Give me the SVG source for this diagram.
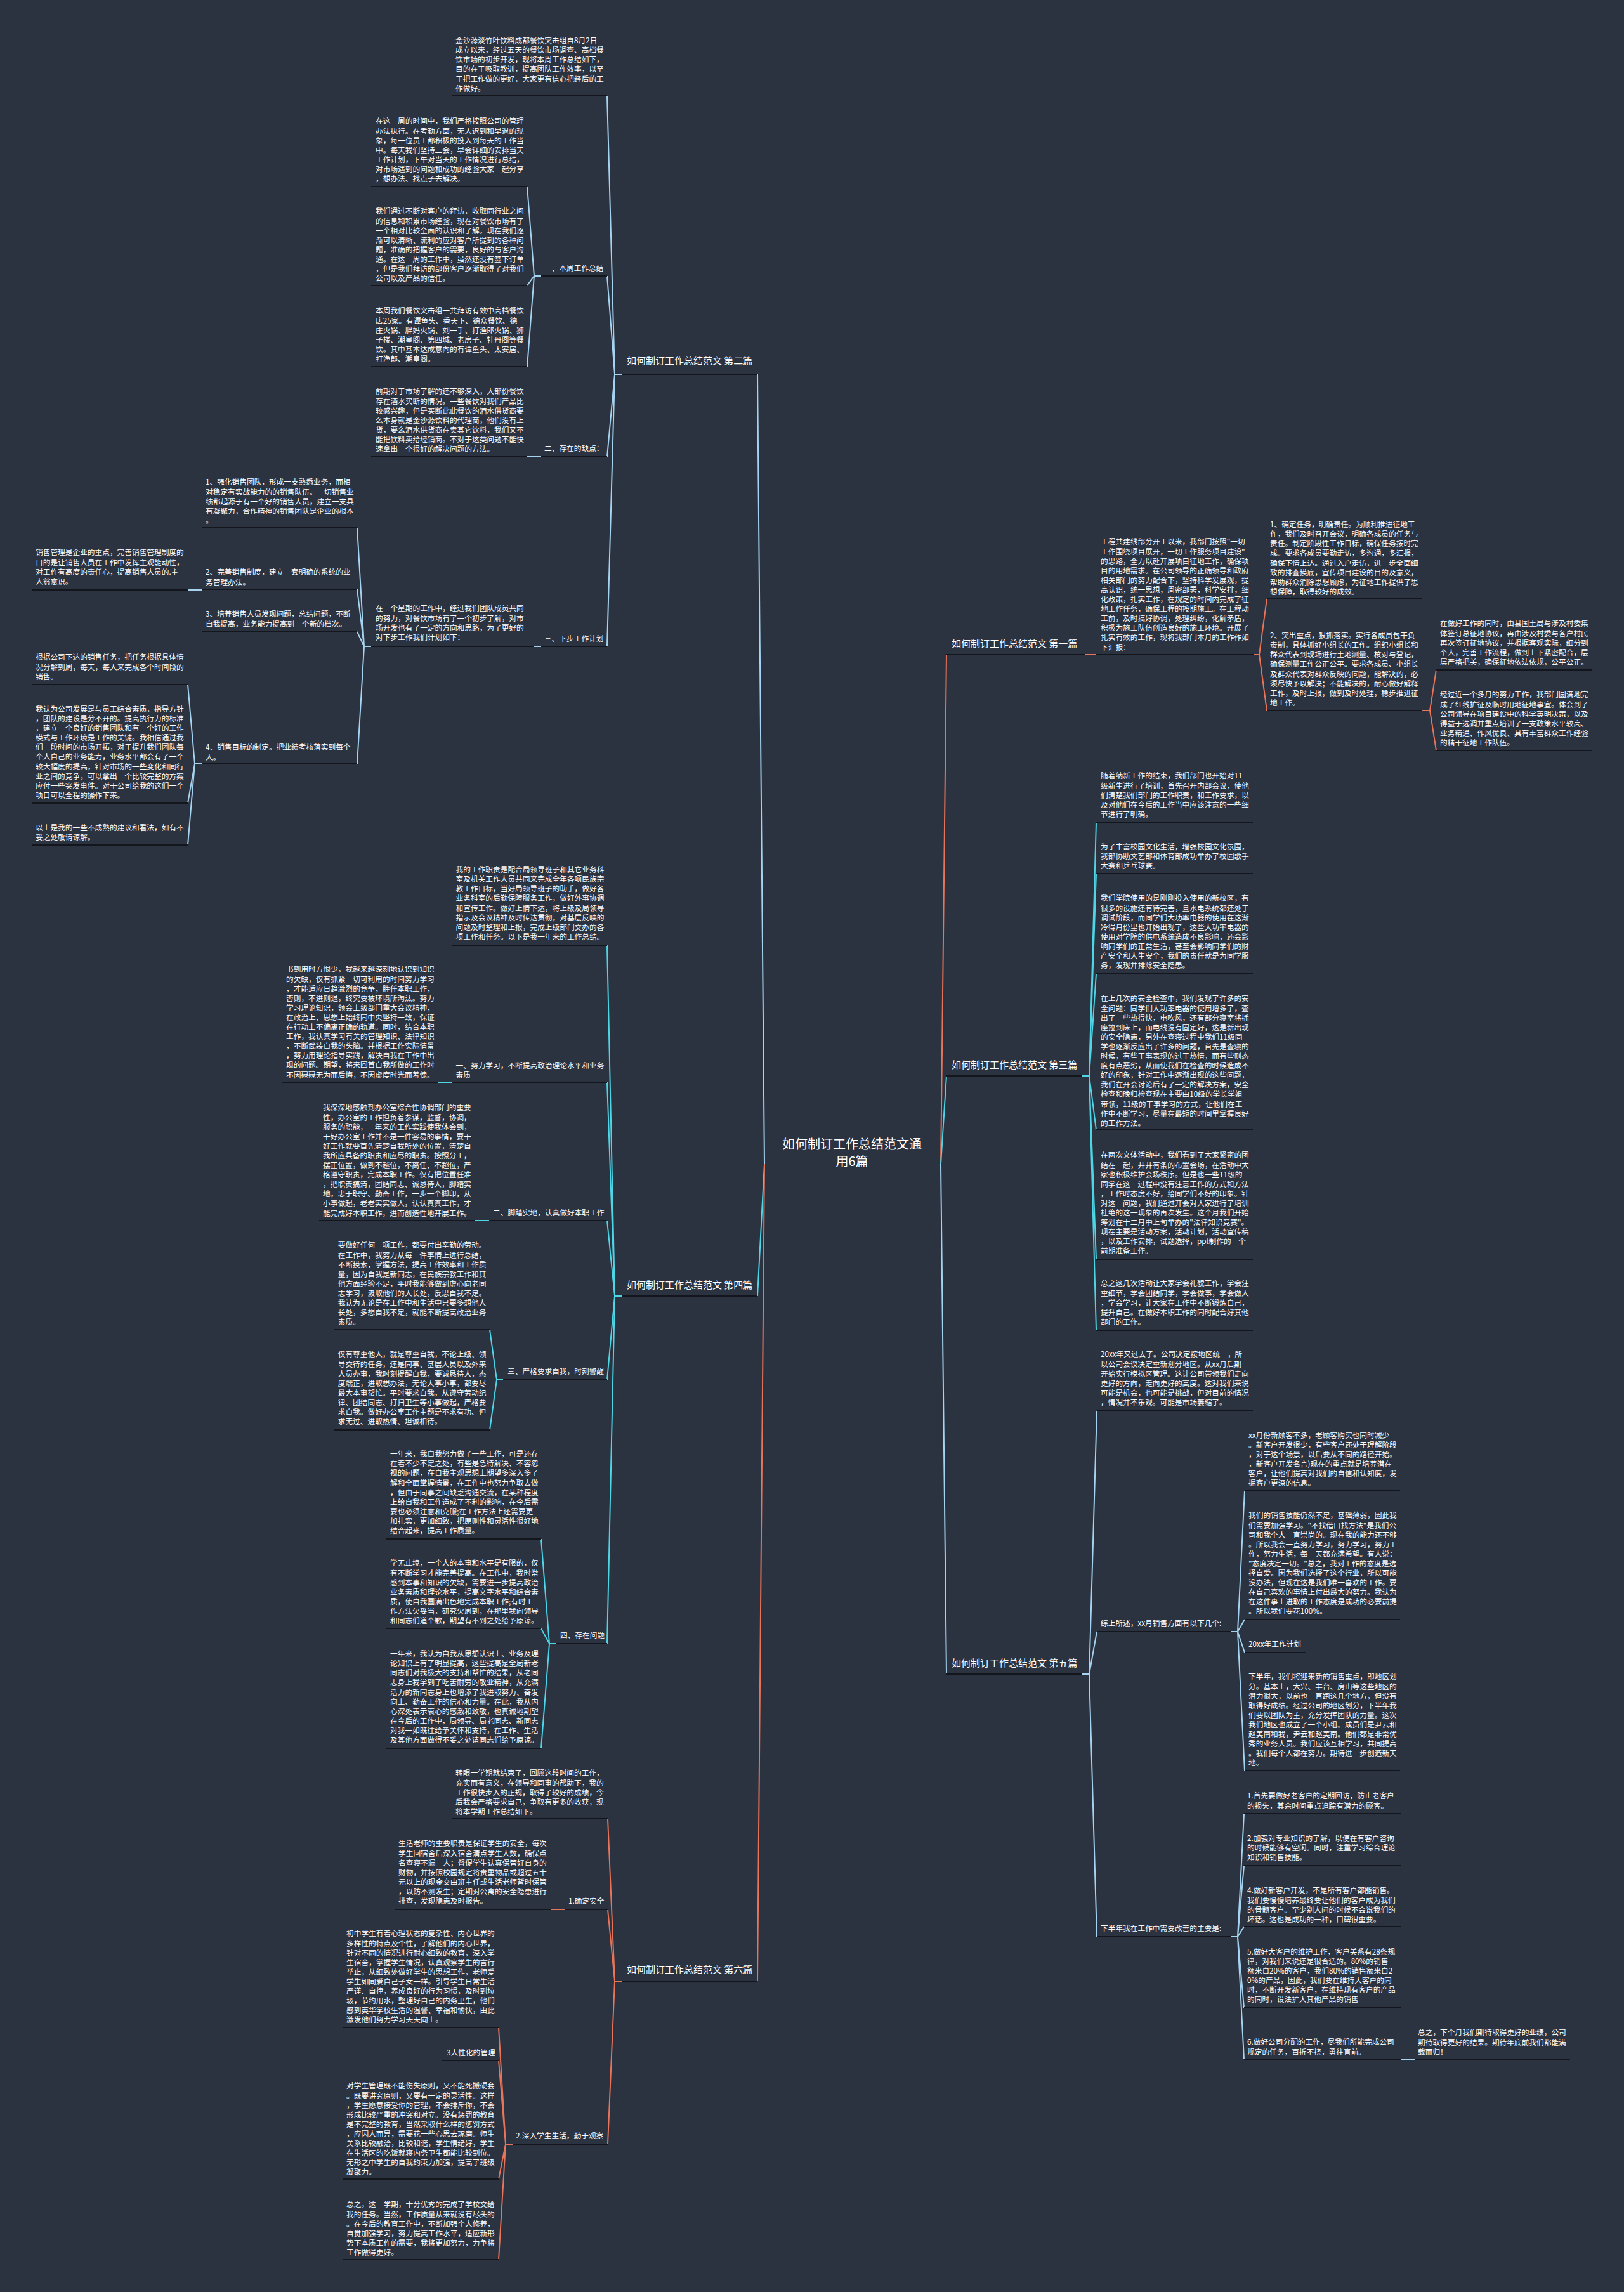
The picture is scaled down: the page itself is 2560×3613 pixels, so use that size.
<svg xmlns="http://www.w3.org/2000/svg" width="2560" height="3613" viewBox="0 0 2560 3613">
<style>
.t{font-family:"Noto Sans CJK SC","Noto Sans",sans-serif;font-size:11.7px;fill:#ffffff}
.lb{font-size:15px}
.ct{font-size:20px;text-anchor:middle}
.ul{stroke:#13171d;stroke-width:2}
.c{fill:none;stroke-width:2}
.cb{stroke:#a6d3f0}
.cc{stroke:#4fd6e6}
.co{stroke:#e8745a}
</style>
<rect width="2560" height="3613" fill="#2b3240"/>
<g id="connectors">
<path class="c cb" d="M1205 1835 L1194 590"/>
<path class="c cc" d="M1205 1835 L1194 2043"/>
<path class="c co" d="M1205 1835 L1194 3123"/>
<path class="c co" d="M1483 1835 L1492 1032"/>
<path class="c cc" d="M1483 1835 L1492 1696"/>
<path class="c cb" d="M1483 1835 L1492 2639"/>
<path class="c cb" d="M980 590 H969 M969 590 L957 151 M969 590 L957 435 M969 590 L957 720 M969 590 L957 1019"/>
<path class="c cb" d="M853 435 H842 M842 435 L831 294 M842 435 L831 450 M842 435 L831 578"/>
<path class="c cb" d="M853 720 H831"/>
<path class="c cb" d="M853 1019 H841"/>
<path class="c cb" d="M585 1019 H574 M574 1019 L563 832 M574 1019 L563 929 M574 1019 L563 996 M574 1019 L563 1204"/>
<path class="c cb" d="M318 930 H296"/>
<path class="c cb" d="M318 1204 H307 M307 1204 L296 1079 M307 1204 L296 1266 M307 1204 L296 1332"/>
<path class="c cc" d="M980 2043 H969 M969 2043 L957 1490 M969 2043 L957 1706 M969 2043 L957 1924 M969 2043 L957 2175 M969 2043 L957 2591"/>
<path class="c cc" d="M712 1706 H690"/>
<path class="c cc" d="M771 1924 H748"/>
<path class="c cc" d="M793 2175 H783 M783 2175 L772 2096 M783 2175 L772 2254"/>
<path class="c cc" d="M876 2591 H866 M866 2591 L853 2426 M866 2591 L853 2567 M866 2591 L853 2756"/>
<path class="c co" d="M980 3123 H969 M969 3123 L958 2867 M969 3123 L958 3010 M969 3123 L958 3380"/>
<path class="c co" d="M890 3010 H868"/>
<path class="c co" d="M808 3380 H797 M797 3380 L786 3196 M797 3380 L786 3248 M797 3380 L786 3435 M797 3380 L786 3562"/>
<path class="c co" d="M1710 1032 H1728"/>
<path class="c co" d="M1977 1032 H1985 M1985 1032 L1997 944 M1985 1032 L1997 1120"/>
<path class="c co" d="M2242 1120 H2254 M2254 1120 L2264 1056 M2254 1120 L2264 1183"/>
<path class="c cc" d="M1706 1696 H1717 M1717 1696 L1728 1296 M1717 1696 L1728 1377 M1717 1696 L1728 1535 M1717 1696 L1728 1781 M1717 1696 L1728 1985 M1717 1696 L1728 2097"/>
<path class="c cb" d="M1706 2639 H1717 M1717 2639 L1729 2224 M1717 2639 L1729 2572 M1717 2639 L1729 3053"/>
<path class="c cb" d="M1940 2572 H1951 M1951 2572 L1962 2350 M1951 2572 L1962 2553 M1951 2572 L1962 2605 M1951 2572 L1962 2791"/>
<path class="c cb" d="M1940 3053 H1951 M1951 3053 L1961 2859 M1951 3053 L1961 2941 M1951 3053 L1961 3037 M1951 3053 L1961 3165 M1951 3053 L1961 3246"/>
<path class="c cb" d="M2208 3246 H2230"/>
</g>
<g id="center"><text class="t ct" x="1343" y="1811"><tspan x="1343">如何制订工作总结范文通</tspan><tspan x="1343" dy="27">用6篇</tspan></text></g>

<g id="b2"><text class="t lb" x="988" y="573.6">如何制订工作总结范文 第二篇</text><line class="ul" x1="980" y1="590" x2="1194" y2="590"/></g>
<g id="b2-intro"><text class="t" x="718" y="68.1"><tspan x="718">金沙源淡竹叶饮料成都餐饮突击组自8月2日</tspan><tspan x="718" dy="15.1">成立以来，经过五天的餐饮市场调查、高档餐</tspan><tspan x="718" dy="15.1">饮市场的初步开发，现将本周工作总结如下，</tspan><tspan x="718" dy="15.1">目的在于吸取教训，提高团队工作效率，以至</tspan><tspan x="718" dy="15.1">于把工作做的更好，大家更有信心把经后的工</tspan><tspan x="718" dy="15.1">作做好。</tspan></text><line class="ul" x1="713" y1="151" x2="957" y2="151"/></g>
<g id="b2-s1"><text class="t" x="858" y="427.4">一、本周工作总结</text><line class="ul" x1="853" y1="435" x2="957" y2="435"/></g>
<g id="b2-s1a"><text class="t" x="592" y="195.4"><tspan x="592">在这一周的时间中，我们严格按照公司的管理</tspan><tspan x="592" dy="15.1">办法执行。在考勤方面，无人迟到和早退的现</tspan><tspan x="592" dy="15.1">象，每一位员工都积极的投入到每天的工作当</tspan><tspan x="592" dy="15.1">中。每天我们坚持二会，早会详细的安排当天</tspan><tspan x="592" dy="15.1">工作计划，下午对当天的工作情况进行总结，</tspan><tspan x="592" dy="15.1">对市场遇到的问题和成功的经验大家一起分享</tspan><tspan x="592" dy="15.1">，想办法、找点子去解决。</tspan></text><line class="ul" x1="585" y1="294" x2="831" y2="294"/></g>
<g id="b2-s1b"><text class="t" x="592" y="337.4"><tspan x="592">我们通过不断对客户的拜访，收取同行业之间</tspan><tspan x="592" dy="15.1">的信息和积累市场经验，现在对餐饮市场有了</tspan><tspan x="592" dy="15.1">一个相对比较全面的认识和了解。现在我们逐</tspan><tspan x="592" dy="15.1">渐可以清晰、流利的应对客户所提到的各种问</tspan><tspan x="592" dy="15.1">题，准确的把握客户的需要，良好的与客户沟</tspan><tspan x="592" dy="15.1">通。在这一周的工作中，虽然还没有签下订单</tspan><tspan x="592" dy="15.1">，但是我们拜访的部份客户逐渐取得了对我们</tspan><tspan x="592" dy="15.1">公司以及产品的信任。</tspan></text><line class="ul" x1="585" y1="450" x2="831" y2="450"/></g>
<g id="b2-s1c"><text class="t" x="592" y="494.4"><tspan x="592">本周我们餐饮突击组一共拜访有效中高档餐饮</tspan><tspan x="592" dy="15.1">店25家。有谭鱼头、香天下、德众餐饮、德</tspan><tspan x="592" dy="15.1">庄火锅、胖妈火锅、刘一手、打渔郎火锅、狮</tspan><tspan x="592" dy="15.1">子楼、潮皇阁、第四城、老房子、牡丹阁等餐</tspan><tspan x="592" dy="15.1">饮。其中基本达成意向的有谭鱼头、太安居、</tspan><tspan x="592" dy="15.1">打渔郎、潮皇阁。</tspan></text><line class="ul" x1="585" y1="578" x2="831" y2="578"/></g>
<g id="b2-s2"><text class="t" x="858" y="711.4">二、存在的缺点：</text><line class="ul" x1="853" y1="720" x2="957" y2="720"/></g>
<g id="b2-s2a"><text class="t" x="592" y="621.4"><tspan x="592">前期对于市场了解的还不够深入，大部份餐饮</tspan><tspan x="592" dy="15.1">存在酒水买断的情况。一些餐饮对我们产品比</tspan><tspan x="592" dy="15.1">较感兴趣，但是买断此此餐饮的酒水供货商要</tspan><tspan x="592" dy="15.1">么本身就是金沙源饮料的代理商，他们没有上</tspan><tspan x="592" dy="15.1">货，要么酒水供货商在卖其它饮料，我们又不</tspan><tspan x="592" dy="15.1">能把饮料卖给经销商。不对于这类问题不能快</tspan><tspan x="592" dy="15.1">速拿出一个很好的解决问题的方法。</tspan></text><line class="ul" x1="585" y1="720" x2="831" y2="720"/></g>
<g id="b2-s3"><text class="t" x="858" y="1011.4">三、下步工作计划</text><line class="ul" x1="853" y1="1019" x2="957" y2="1019"/></g>
<g id="b2-s3a"><text class="t" x="592" y="963.4"><tspan x="592">在一个星期的工作中，经过我们团队成员共同</tspan><tspan x="592" dy="15.1">的努力，对餐饮市场有了一个初步了解，对市</tspan><tspan x="592" dy="15.1">场开发也有了一定的方向和思路，为了更好的</tspan><tspan x="592" dy="15.1">对下步工作我们计划如下：</tspan></text><line class="ul" x1="585" y1="1019" x2="841" y2="1019"/></g>
<g id="b2-p1"><text class="t" x="324" y="764.4"><tspan x="324">1、强化销售团队，形成一支熟悉业务，而相</tspan><tspan x="324" dy="15.1">对稳定有实战能力的的销售队伍。一切销售业</tspan><tspan x="324" dy="15.1">绩都起源于有一个好的销售人员，建立一支具</tspan><tspan x="324" dy="15.1">有凝聚力，合作精神的销售团队是企业的根本</tspan><tspan x="324" dy="15.1">。</tspan></text><line class="ul" x1="318" y1="832" x2="563" y2="832"/></g>
<g id="b2-p2"><text class="t" x="324" y="906.4"><tspan x="324">2、完善销售制度，建立一套明确的系统的业</tspan><tspan x="324" dy="15.1">务管理办法。</tspan></text><line class="ul" x1="318" y1="929" x2="563" y2="929"/></g>
<g id="b2-p2a"><text class="t" x="56" y="875.4"><tspan x="56">销售管理是企业的重点，完善销售管理制度的</tspan><tspan x="56" dy="15.1">目的是让销售人员在工作中发挥主观能动性，</tspan><tspan x="56" dy="15.1">对工作有高度的责任心，提高销售人员的.主</tspan><tspan x="56" dy="15.1">人翁意识。</tspan></text><line class="ul" x1="50" y1="930" x2="296" y2="930"/></g>
<g id="b2-p3"><text class="t" x="324" y="972.4"><tspan x="324">3、培养销售人员发现问题，总结问题，不断</tspan><tspan x="324" dy="15.1">自我提高，业务能力提高到一个新的档次。</tspan></text><line class="ul" x1="318" y1="996" x2="563" y2="996"/></g>
<g id="b2-p4"><text class="t" x="324" y="1182.4"><tspan x="324">4、销售目标的制定。把业绩考核落实到每个</tspan><tspan x="324" dy="15.1">人。</tspan></text><line class="ul" x1="318" y1="1204" x2="563" y2="1204"/></g>
<g id="b2-p4a"><text class="t" x="56" y="1040.4"><tspan x="56">根据公司下达的销售任务，把任务根据具体情</tspan><tspan x="56" dy="15.1">况分解到周，每天，每人来完成各个时间段的</tspan><tspan x="56" dy="15.1">销售。</tspan></text><line class="ul" x1="50" y1="1079" x2="296" y2="1079"/></g>
<g id="b2-p4b"><text class="t" x="56" y="1121.9"><tspan x="56">我认为公司发展是与员工综合素质，指导方针</tspan><tspan x="56" dy="15.1">，团队的建设是分不开的。提高执行力的标准</tspan><tspan x="56" dy="15.1">，建立一个良好的销售团队和有一个好的工作</tspan><tspan x="56" dy="15.1">模式与工作环境是工作的关键。我相信通过我</tspan><tspan x="56" dy="15.1">们一段时间的市场开拓，对于提升我们团队每</tspan><tspan x="56" dy="15.1">个人自己的业务能力，业务水平都会有了一个</tspan><tspan x="56" dy="15.1">较大幅度的提高，针对市场的一些变化和同行</tspan><tspan x="56" dy="15.1">业之间的竞争，可以拿出一个比较完整的方案</tspan><tspan x="56" dy="15.1">应付一些突发事件。对于公司给我的这们一个</tspan><tspan x="56" dy="15.1">项目可以全程的操作下来。</tspan></text><line class="ul" x1="50" y1="1266" x2="296" y2="1266"/></g>
<g id="b2-p4c"><text class="t" x="56" y="1308.9"><tspan x="56">以上是我的一些不成熟的建议和看法，如有不</tspan><tspan x="56" dy="15.1">妥之处敬请谅解。</tspan></text><line class="ul" x1="50" y1="1332" x2="296" y2="1332"/></g>

<g id="b4"><text class="t lb" x="988" y="2030.6">如何制订工作总结范文 第四篇</text><line class="ul" x1="980" y1="2043" x2="1194" y2="2043"/></g>
<g id="b4-intro"><text class="t" x="718.6" y="1375.1"><tspan x="718.6">我的工作职责是配合局领导班子和其它业务科</tspan><tspan x="718.6" dy="15.1">室及机关工作人员共同来完成全年各项民族宗</tspan><tspan x="718.6" dy="15.1">教工作目标，当好局领导班子的助手，做好各</tspan><tspan x="718.6" dy="15.1">业务科室的后勤保障服务工作，做好外事协调</tspan><tspan x="718.6" dy="15.1">和宣传工作。做好上情下达，将上级及局领导</tspan><tspan x="718.6" dy="15.1">指示及会议精神及时传达贯彻，对基层反映的</tspan><tspan x="718.6" dy="15.1">问题及时整理和上报，完成上级部门交办的各</tspan><tspan x="718.6" dy="15.1">项工作和任务。以下是我一年来的工作总结。</tspan></text><line class="ul" x1="712" y1="1490" x2="957" y2="1490"/></g>
<g id="b4-s1"><text class="t" x="718.6" y="1684"><tspan x="718.6">一、努力学习，不断提高政治理论水平和业务</tspan><tspan x="718.6" dy="15.1">素质</tspan></text><line class="ul" x1="712" y1="1706" x2="957" y2="1706"/></g>
<g id="b4-s1a"><text class="t" x="451" y="1532.4"><tspan x="451">书到用时方恨少，我越来越深刻地认识到知识</tspan><tspan x="451" dy="15.1">的欠缺，仅有抓紧一切可利用的时间努力学习</tspan><tspan x="451" dy="15.1">，才能适应日趋激烈的竞争，胜任本职工作，</tspan><tspan x="451" dy="15.1">否则，不进则退，终究要被环境所淘汰。努力</tspan><tspan x="451" dy="15.1">学习理论知识，领会上级部门重大会议精神，</tspan><tspan x="451" dy="15.1">在政治上、思想上始终同中央坚持一致，保证</tspan><tspan x="451" dy="15.1">在行动上不偏离正确的轨道。同时，结合本职</tspan><tspan x="451" dy="15.1">工作，我认真学习有关的管理知识、法律知识</tspan><tspan x="451" dy="15.1">，不断武装自我的头脑。并根据工作实际情景</tspan><tspan x="451" dy="15.1">，努力用理论指导实践，解决自我在工作中出</tspan><tspan x="451" dy="15.1">现的问题。期望，将来回首自我所做的工作时</tspan><tspan x="451" dy="15.1">不因碌碌无为而后悔，不因虚度时光而羞愧。</tspan></text><line class="ul" x1="445" y1="1706" x2="690" y2="1706"/></g>
<g id="b4-s2"><text class="t" x="777" y="1916.4">二、脚踏实地，认真做好本职工作</text><line class="ul" x1="771" y1="1924" x2="957" y2="1924"/></g>
<g id="b4-s2a"><text class="t" x="509" y="1750.4"><tspan x="509">我深深地感触到办公室综合性协调部门的重要</tspan><tspan x="509" dy="15.1">性，办公室的工作担负着参谋，监督，协调，</tspan><tspan x="509" dy="15.1">服务的职能，一年来的工作实践使我体会到，</tspan><tspan x="509" dy="15.1">干好办公室工作并不是一件容易的事情，要干</tspan><tspan x="509" dy="15.1">好工作就要首先清楚自我所处的位置，清楚自</tspan><tspan x="509" dy="15.1">我所应具备的职责和应尽的职责。按照分工，</tspan><tspan x="509" dy="15.1">摆正位置，做到不越位，不离任、不超位，严</tspan><tspan x="509" dy="15.1">格遵守职责，完成本职工作。仅有把位置任准</tspan><tspan x="509" dy="15.1">，把职责搞清，团结同志、诚恳待人，脚踏实</tspan><tspan x="509" dy="15.1">地，忠于职守、勤奋工作，一步一个脚印，从</tspan><tspan x="509" dy="15.1">小事做起，老老实实做人，认认真真工作，才</tspan><tspan x="509" dy="15.1">能完成好本职工作，进而创造性地开展工作。</tspan></text><line class="ul" x1="503" y1="1924" x2="748" y2="1924"/></g>
<g id="b4-s3"><text class="t" x="800" y="2166.4">三、严格要求自我，时刻警醒</text><line class="ul" x1="793" y1="2175" x2="957" y2="2175"/></g>
<g id="b4-s3a"><text class="t" x="532.7" y="1967.4"><tspan x="532.7">要做好任何一项工作，都要付出辛勤的劳动。</tspan><tspan x="532.7" dy="15.1">在工作中，我努力从每一件事情上进行总结，</tspan><tspan x="532.7" dy="15.1">不断摸索，掌握方法，提高工作效率和工作质</tspan><tspan x="532.7" dy="15.1">量，因为自我是新同志，在民族宗教工作和其</tspan><tspan x="532.7" dy="15.1">他方面经验不足，平时我能够做到虚心向老同</tspan><tspan x="532.7" dy="15.1">志学习，汲取他们的人长处，反思自我不足。</tspan><tspan x="532.7" dy="15.1">我认为无论是在工作中和生活中只要多想他人</tspan><tspan x="532.7" dy="15.1">长处，多想自我不足，就能不断提高政治业务</tspan><tspan x="532.7" dy="15.1">素质。</tspan></text><line class="ul" x1="527" y1="2096" x2="772" y2="2096"/></g>
<g id="b4-s3b"><text class="t" x="532.7" y="2139.4"><tspan x="532.7">仅有尊重他人，就是尊重自我，不论上级、领</tspan><tspan x="532.7" dy="15.1">导交待的任务，还是同事、基层人员以及外来</tspan><tspan x="532.7" dy="15.1">人员办事，我时刻提醒自我，要诚恳待人，态</tspan><tspan x="532.7" dy="15.1">度端正，进取想办法，无论大事小事，都要尽</tspan><tspan x="532.7" dy="15.1">最大本事帮忙。平时要求自我，从遵守劳动纪</tspan><tspan x="532.7" dy="15.1">律、团结同志、打扫卫生等小事做起，严格要</tspan><tspan x="532.7" dy="15.1">求自我。做好办公室工作主题是不求有功、但</tspan><tspan x="532.7" dy="15.1">求无过、进取热情、坦诚相待。</tspan></text><line class="ul" x1="527" y1="2254" x2="772" y2="2254"/></g>
<g id="b4-s4"><text class="t" x="883" y="2582.4">四、存在问题</text><line class="ul" x1="876" y1="2591" x2="957" y2="2591"/></g>
<g id="b4-s4a"><text class="t" x="615" y="2296.2"><tspan x="615">一年来，我自我努力做了一些工作，可是还存</tspan><tspan x="615" dy="15.1">在着不少不足之处，有些是急待解决、不容忽</tspan><tspan x="615" dy="15.1">视的问题，在自我主观思想上期望多深入多了</tspan><tspan x="615" dy="15.1">解和全面掌握情景，在工作中也努力争取去做</tspan><tspan x="615" dy="15.1">，但由于同事之间缺乏沟通交流，在某种程度</tspan><tspan x="615" dy="15.1">上给自我和工作造成了不利的影响，在今后需</tspan><tspan x="615" dy="15.1">要也必须注意和克服;在工作方法上还需要更</tspan><tspan x="615" dy="15.1">加扎实，更加细致，把原则性和灵活性很好地</tspan><tspan x="615" dy="15.1">结合起来，提高工作质量。</tspan></text><line class="ul" x1="608" y1="2426" x2="853" y2="2426"/></g>
<g id="b4-s4b"><text class="t" x="615" y="2468.4"><tspan x="615">学无止境，一个人的本事和水平是有限的，仅</tspan><tspan x="615" dy="15.1">有不断学习才能完善提高。在工作中，我时常</tspan><tspan x="615" dy="15.1">感到本事和知识的欠缺，需要进一步提高政治</tspan><tspan x="615" dy="15.1">业务素质和理论水平，提高文字水平和综合素</tspan><tspan x="615" dy="15.1">质，使自我圆满出色地完成本职工作;有时工</tspan><tspan x="615" dy="15.1">作方法欠妥当，研究欠周到，在那里我向领导</tspan><tspan x="615" dy="15.1">和同志们道个歉，期望有不到之处给予原谅。</tspan></text><line class="ul" x1="608" y1="2567" x2="853" y2="2567"/></g>
<g id="b4-s4c"><text class="t" x="615" y="2611.1"><tspan x="615">一年来，我认为自我从思想认识上、业务及理</tspan><tspan x="615" dy="15.1">论知识上有了明显提高，这些提高是全局新老</tspan><tspan x="615" dy="15.1">同志们对我极大的支持和帮忙的结果，从老同</tspan><tspan x="615" dy="15.1">志身上我学到了吃苦耐劳的敬业精神，从充满</tspan><tspan x="615" dy="15.1">活力的新同志身上也增添了我进取努力、奋发</tspan><tspan x="615" dy="15.1">向上、勤奋工作的信心和力量。在此，我从内</tspan><tspan x="615" dy="15.1">心深处表示衷心的感激和致敬，也真诚地期望</tspan><tspan x="615" dy="15.1">在今后的工作中，局领导、局老同志、新同志</tspan><tspan x="615" dy="15.1">对我一如既往给予关怀和支持，在工作、生活</tspan><tspan x="615" dy="15.1">及其他方面做得不妥之处请同志们给予原谅。</tspan></text><line class="ul" x1="608" y1="2756" x2="853" y2="2756"/></g>

<g id="b6"><text class="t lb" x="988" y="3109.6">如何制订工作总结范文 第六篇</text><line class="ul" x1="980" y1="3123" x2="1194" y2="3123"/></g>
<g id="b6-intro"><text class="t" x="718" y="2799.4"><tspan x="718">转眼一学期就结束了，回顾这段时间的工作，</tspan><tspan x="718" dy="15.1">充实而有意义，在领导和同事的帮助下，我的</tspan><tspan x="718" dy="15.1">工作很快步入的正规，取得了较好的成绩，今</tspan><tspan x="718" dy="15.1">后我会严格要求自己，争取有更多的收获，现</tspan><tspan x="718" dy="15.1">将本学期工作总结如下。</tspan></text><line class="ul" x1="713" y1="2867" x2="958" y2="2867"/></g>
<g id="b6-s1"><text class="t" x="896" y="3001.4">1.确定安全</text><line class="ul" x1="890" y1="3010" x2="958" y2="3010"/></g>
<g id="b6-s1a"><text class="t" x="628" y="2910.4"><tspan x="628">生活老师的重要职责是保证学生的安全，每次</tspan><tspan x="628" dy="15.1">学生回宿舍后深入宿舍清点学生人数，确保点</tspan><tspan x="628" dy="15.1">名查寝不漏一人；督促学生认真保管好自身的</tspan><tspan x="628" dy="15.1">财物，并按照校园规定将贵重物品或超过五十</tspan><tspan x="628" dy="15.1">元以上的现金交由班主任或生活老师暂时保管</tspan><tspan x="628" dy="15.1">，以防不测发生；定期对公寓的安全隐患进行</tspan><tspan x="628" dy="15.1">排查，发现隐患及时报告。</tspan></text><line class="ul" x1="623" y1="3010" x2="868" y2="3010"/></g>
<g id="b6-s2"><text class="t" x="813" y="3371.4">2.深入学生生活，勤于观察</text><line class="ul" x1="808" y1="3380" x2="958" y2="3380"/></g>
<g id="b6-s2a"><text class="t" x="546" y="3052.4"><tspan x="546">初中学生有着心理状态的复杂性、内心世界的</tspan><tspan x="546" dy="15.1">多样性的特点及个性，了解他们的内心世界，</tspan><tspan x="546" dy="15.1">针对不同的情况进行耐心细致的教育，深入学</tspan><tspan x="546" dy="15.1">生宿舍，掌握学生情况，认真观察学生的言行</tspan><tspan x="546" dy="15.1">举止，从细致处做好学生的思想工作，老师爱</tspan><tspan x="546" dy="15.1">学生如同爱自己子女一样。引导学生日常生活</tspan><tspan x="546" dy="15.1">严谨、自律，养成良好的行为习惯，及时到垃</tspan><tspan x="546" dy="15.1">圾，节约用水，整理好自己的内务卫生，他们</tspan><tspan x="546" dy="15.1">感到英华学校生活的温馨、幸福和愉快，由此</tspan><tspan x="546" dy="15.1">激发他们努力学习天天向上。</tspan></text><line class="ul" x1="540" y1="3196" x2="786" y2="3196"/></g>
<g id="b6-s2b"><text class="t" x="704" y="3240.4">3人性化的管理</text><line class="ul" x1="697" y1="3248" x2="786" y2="3248"/></g>
<g id="b6-s2c"><text class="t" x="546" y="3292.4"><tspan x="546">对学生管理既不能伤失原则，又不能死搬硬套</tspan><tspan x="546" dy="15.1">。既要讲究原则，又要有一定的灵活性。这样</tspan><tspan x="546" dy="15.1">，学生愿意接受你的管理，不会排斥你，不会</tspan><tspan x="546" dy="15.1">形成比较严重的冲突和对立。没有惩罚的教育</tspan><tspan x="546" dy="15.1">是不完整的教育，当然采取什么样的惩罚方式</tspan><tspan x="546" dy="15.1">，应因人而异，需要花一些心思去琢磨。师生</tspan><tspan x="546" dy="15.1">关系比较融洽，比较和谐，学生情绪好，学生</tspan><tspan x="546" dy="15.1">在生活区的吃饭就寝内务卫生都能比较到位。</tspan><tspan x="546" dy="15.1">无形之中学生的自我约束力加强，提高了班级</tspan><tspan x="546" dy="15.1">凝聚力。</tspan></text><line class="ul" x1="540" y1="3435" x2="786" y2="3435"/></g>
<g id="b6-s2d"><text class="t" x="546" y="3479.4"><tspan x="546">总之，这一学期，十分优秀的完成了学校交给</tspan><tspan x="546" dy="15.1">我的任务。当然，工作质量从来就没有尽头的</tspan><tspan x="546" dy="15.1">。在今后的教育工作中，不断加强个人修养，</tspan><tspan x="546" dy="15.1">自觉加强学习，努力提高工作水平，适应新形</tspan><tspan x="546" dy="15.1">势下本质工作的需要，我将更加努力，力争将</tspan><tspan x="546" dy="15.1">工作做得更好。</tspan></text><line class="ul" x1="540" y1="3562" x2="786" y2="3562"/></g>

<g id="b1"><text class="t lb" x="1500" y="1019.5">如何制订工作总结范文 第一篇</text><line class="ul" x1="1492" y1="1032" x2="1710" y2="1032"/></g>
<g id="b1-main"><text class="t" x="1735" y="858.4"><tspan x="1735">工程共建线部分开工以来，我部门按照"一切</tspan><tspan x="1735" dy="15.1">工作围绕项目展开，一切工作服务项目建设"</tspan><tspan x="1735" dy="15.1">的思路，全力以赴开展项目征地工作，确保项</tspan><tspan x="1735" dy="15.1">目的用地需求。在公司领导的正确领导和政府</tspan><tspan x="1735" dy="15.1">相关部门的努力配合下，坚持科学发展观，提</tspan><tspan x="1735" dy="15.1">高认识，统一思想，周密部署，科学安排，细</tspan><tspan x="1735" dy="15.1">化政策，扎实工作，在规定的时间内完成了征</tspan><tspan x="1735" dy="15.1">地工作任务，确保工程的按期施工。在工程动</tspan><tspan x="1735" dy="15.1">工前，及时搞好协调，处理纠纷，化解矛盾，</tspan><tspan x="1735" dy="15.1">积极为施工队伍创造良好的施工环境。开展了</tspan><tspan x="1735" dy="15.1">扎实有效的工作，现将我部门本月的工作作如</tspan><tspan x="1735" dy="15.1">下汇报：</tspan></text><line class="ul" x1="1728" y1="1032" x2="1977" y2="1032"/></g>
<g id="b1-p1"><text class="t" x="2002" y="831.1"><tspan x="2002">1、确定任务，明确责任。为顺利推进征地工</tspan><tspan x="2002" dy="15.1">作，我们及时召开会议，明确各成员的任务与</tspan><tspan x="2002" dy="15.1">责任。制定阶段性工作目标，确保任务按时完</tspan><tspan x="2002" dy="15.1">成。要求各成员要勤走访，多沟通，多汇报，</tspan><tspan x="2002" dy="15.1">确保下情上达。通过入户走访，进一步全面细</tspan><tspan x="2002" dy="15.1">致的排查摸底，宣传项目建设的目的及意义，</tspan><tspan x="2002" dy="15.1">帮助群众消除思想顾虑，为征地工作提供了思</tspan><tspan x="2002" dy="15.1">想保障，取得较好的成效。</tspan></text><line class="ul" x1="1997" y1="944" x2="2242" y2="944"/></g>
<g id="b1-p2"><text class="t" x="2002" y="1006.1"><tspan x="2002">2、突出重点，狠抓落实。实行各成员包干负</tspan><tspan x="2002" dy="15.1">责制，具体抓好小组长的工作。组织小组长和</tspan><tspan x="2002" dy="15.1">群众代表到现场进行土地测量、核对与登记，</tspan><tspan x="2002" dy="15.1">确保测量工作公正公平。要求各成员、小组长</tspan><tspan x="2002" dy="15.1">及群众代表对群众反映的问题，能解决的，必</tspan><tspan x="2002" dy="15.1">须尽快予以解决；不能解决的，耐心做好解释</tspan><tspan x="2002" dy="15.1">工作，及时上报，做到及时处理，稳步推进征</tspan><tspan x="2002" dy="15.1">地工作。</tspan></text><line class="ul" x1="1997" y1="1120" x2="2242" y2="1120"/></g>
<g id="b1-p2a"><text class="t" x="2270" y="987.4"><tspan x="2270">在做好工作的同时，由县国土局与涉及村委集</tspan><tspan x="2270" dy="15.1">体签订总征地协议，再由涉及村委与各户村民</tspan><tspan x="2270" dy="15.1">再次签订征地协议，并根据客观实际，细分到</tspan><tspan x="2270" dy="15.1">个人，完善工作流程，做到上下紧密配合，层</tspan><tspan x="2270" dy="15.1">层严格把关，确保征地依法依规，公平公正。</tspan></text><line class="ul" x1="2264" y1="1056" x2="2510" y2="1056"/></g>
<g id="b1-p2b"><text class="t" x="2270" y="1099.4"><tspan x="2270">经过近一个多月的努力工作，我部门圆满地完</tspan><tspan x="2270" dy="15.1">成了红线扩征及临时用地征地事宜。体会到了</tspan><tspan x="2270" dy="15.1">公司领导在项目建设中的科学英明决策，以及</tspan><tspan x="2270" dy="15.1">得益于选调并重点培训了一支政策水平较高、</tspan><tspan x="2270" dy="15.1">业务精通、作风优良、具有丰富群众工作经验</tspan><tspan x="2270" dy="15.1">的精干征地工作队伍。</tspan></text><line class="ul" x1="2264" y1="1183" x2="2510" y2="1183"/></g>

<g id="b3"><text class="t lb" x="1500" y="1683.6">如何制订工作总结范文 第三篇</text><line class="ul" x1="1492" y1="1696" x2="1706" y2="1696"/></g>
<g id="b3-1"><text class="t" x="1735" y="1227.4"><tspan x="1735">随着纳新工作的结束，我们部门也开始对11</tspan><tspan x="1735" dy="15.1">级新生进行了培训，首先召开内部会议，使他</tspan><tspan x="1735" dy="15.1">们清楚我们部门的工作职责，和工作要求，以</tspan><tspan x="1735" dy="15.1">及对他们在今后的工作当中应该注意的一些细</tspan><tspan x="1735" dy="15.1">节进行了明确。</tspan></text><line class="ul" x1="1728" y1="1296" x2="1975" y2="1296"/></g>
<g id="b3-2"><text class="t" x="1735" y="1339"><tspan x="1735">为了丰富校园文化生活，增强校园文化氛围，</tspan><tspan x="1735" dy="15.1">我部协助文艺部和体育部成功举办了校园歌手</tspan><tspan x="1735" dy="15.1">大赛和乒乓球赛。</tspan></text><line class="ul" x1="1728" y1="1377" x2="1975" y2="1377"/></g>
<g id="b3-3"><text class="t" x="1735" y="1420.4"><tspan x="1735">我们学院使用的是刚刚投入使用的新校区，有</tspan><tspan x="1735" dy="15.1">很多的设施还有待完善，且水电系统都还处于</tspan><tspan x="1735" dy="15.1">调试阶段，而同学们大功率电器的使用在这渐</tspan><tspan x="1735" dy="15.1">冷得月份里也开始出现了，这些大功率电器的</tspan><tspan x="1735" dy="15.1">使用对学院的供电系统造成不良影响，还会影</tspan><tspan x="1735" dy="15.1">响同学们的正常生活，甚至会影响同学们的财</tspan><tspan x="1735" dy="15.1">产安全和人生安全，我们的责任就是为同学服</tspan><tspan x="1735" dy="15.1">务，发现并排除安全隐患。</tspan></text><line class="ul" x1="1728" y1="1535" x2="1975" y2="1535"/></g>
<g id="b3-4"><text class="t" x="1735" y="1578.4"><tspan x="1735">在上几次的安全检查中，我们发现了许多的安</tspan><tspan x="1735" dy="15.1">全问题：同学们大功率电器的使用增多了，查</tspan><tspan x="1735" dy="15.1">出了一些热得快，电吹风，还有部分寝室将插</tspan><tspan x="1735" dy="15.1">座拉到床上，而电线没有固定好，这是新出现</tspan><tspan x="1735" dy="15.1">的安全隐患，另外在查寝过程中我们11级同</tspan><tspan x="1735" dy="15.1">学也逐渐反应出了许多的问题，首先是查寝的</tspan><tspan x="1735" dy="15.1">时候，有些干事表现的过于热情，而有些则态</tspan><tspan x="1735" dy="15.1">度有点恶劣，从而使我们在检查的时候造成不</tspan><tspan x="1735" dy="15.1">好的印象，针对工作中逐渐出现的这些问题，</tspan><tspan x="1735" dy="15.1">我们在开会讨论后有了一定的解决方案，安全</tspan><tspan x="1735" dy="15.1">检查和晚归检查现在主要由10级的学长学姐</tspan><tspan x="1735" dy="15.1">带领，11级的干事学习的方式，让他们在工</tspan><tspan x="1735" dy="15.1">作中不断学习，尽量在最短的时间里掌握良好</tspan><tspan x="1735" dy="15.1">的工作方法。</tspan></text><line class="ul" x1="1728" y1="1781" x2="1975" y2="1781"/></g>
<g id="b3-5"><text class="t" x="1735" y="1825.4"><tspan x="1735">在两次文体活动中，我们看到了大家紧密的团</tspan><tspan x="1735" dy="15.1">结在一起，井井有条的布置会场，在活动中大</tspan><tspan x="1735" dy="15.1">家也积极维护会场秩序。但是也一些11级的</tspan><tspan x="1735" dy="15.1">同学在这一过程中没有注意工作的方式和方法</tspan><tspan x="1735" dy="15.1">，工作时态度不好，给同学们不好的印象。针</tspan><tspan x="1735" dy="15.1">对这一问题，我们通过开会对大家进行了培训</tspan><tspan x="1735" dy="15.1">杜绝的这一现象的再次发生。这个月我们开始</tspan><tspan x="1735" dy="15.1">筹划在十二月中上旬举办的"法律知识竞赛"。</tspan><tspan x="1735" dy="15.1">现在主要是活动方案，活动计划，活动宣传稿</tspan><tspan x="1735" dy="15.1">，以及工作安排，试题选择，ppt制作的一个</tspan><tspan x="1735" dy="15.1">前期准备工作。</tspan></text><line class="ul" x1="1728" y1="1985" x2="1975" y2="1985"/></g>
<g id="b3-6"><text class="t" x="1735" y="2027.4"><tspan x="1735">总之这几次活动让大家学会礼貌工作，学会注</tspan><tspan x="1735" dy="15.1">重细节，学会团结同学，学会做事，学会做人</tspan><tspan x="1735" dy="15.1">，学会学习，让大家在工作中不断锻炼自己，</tspan><tspan x="1735" dy="15.1">提升自己。在做好本职工作的同时配合好其他</tspan><tspan x="1735" dy="15.1">部门的工作。</tspan></text><line class="ul" x1="1728" y1="2097" x2="1975" y2="2097"/></g>

<g id="b5"><text class="t lb" x="1500" y="2626.6">如何制订工作总结范文 第五篇</text><line class="ul" x1="1492" y1="2639" x2="1706" y2="2639"/></g>
<g id="b5-intro"><text class="t" x="1735" y="2139.4"><tspan x="1735">20xx年又过去了。公司决定按地区统一，所</tspan><tspan x="1735" dy="15.1">以公司会议决定重新划分地区。从xx月后期</tspan><tspan x="1735" dy="15.1">开始实行模拟区管理。这让公司带领我们走向</tspan><tspan x="1735" dy="15.1">更好的方向，走向更好的高度。这对我们来说</tspan><tspan x="1735" dy="15.1">可能是机会，也可能是挑战，但对目前的情况</tspan><tspan x="1735" dy="15.1">，情况并不乐观。可能是市场萎缩了。</tspan></text><line class="ul" x1="1729" y1="2224" x2="1975" y2="2224"/></g>
<g id="b5-s1"><text class="t" x="1735" y="2563">综上所述，xx月销售方面有以下几个:</text><line class="ul" x1="1729" y1="2572" x2="1940" y2="2572"/></g>
<g id="b5-s1a"><text class="t" x="1968" y="2266.9"><tspan x="1968">xx月份新顾客不多，老顾客购买也同时减少</tspan><tspan x="1968" dy="15.1">。新客户开发很少，有些客户还处于理解阶段</tspan><tspan x="1968" dy="15.1">，对于这个场景，以后要从不同的路径开始。</tspan><tspan x="1968" dy="15.1">，新客户开发名言)现在的重点就是培养潜在</tspan><tspan x="1968" dy="15.1">客户，让他们提高对我们的自信和认知度，发</tspan><tspan x="1968" dy="15.1">掘客户更深的信息。</tspan></text><line class="ul" x1="1962" y1="2350" x2="2207" y2="2350"/></g>
<g id="b5-s1b"><text class="t" x="1968" y="2393.4"><tspan x="1968">我们的销售技能仍然不足，基础薄弱，因此我</tspan><tspan x="1968" dy="15.1">们需要加强学习。"不找借口找方法"是我们公</tspan><tspan x="1968" dy="15.1">司和我个人一直崇尚的。现在我的能力还不够</tspan><tspan x="1968" dy="15.1">。所以我会一直努力学习，努力学习，努力工</tspan><tspan x="1968" dy="15.1">作，努力生活，每一天都充满希望。有人说：</tspan><tspan x="1968" dy="15.1">"态度决定一切。"总之，我对工作的态度是选</tspan><tspan x="1968" dy="15.1">择自爱。因为我们选择了这个行业，所以可能</tspan><tspan x="1968" dy="15.1">没办法，但现在这是我们唯一喜欢的工作。要</tspan><tspan x="1968" dy="15.1">在自己喜欢的事情上付出最大的努力。我认为</tspan><tspan x="1968" dy="15.1">在这件事上进取的工作态度是成功的必要前提</tspan><tspan x="1968" dy="15.1">。所以我们要花100%。</tspan></text><line class="ul" x1="1962" y1="2553" x2="2207" y2="2553"/></g>
<g id="b5-s1c"><text class="t" x="1968" y="2596.1">20xx年工作计划</text><line class="ul" x1="1962" y1="2605" x2="2058" y2="2605"/></g>
<g id="b5-s1d"><text class="t" x="1968" y="2647.4"><tspan x="1968">下半年，我们将迎来新的销售重点，即地区划</tspan><tspan x="1968" dy="15.1">分。基本上，大兴、丰台、房山等这些地区的</tspan><tspan x="1968" dy="15.1">潜力很大，以前也一直跑这几个地方，但没有</tspan><tspan x="1968" dy="15.1">取得好成绩。经过公司的地区划分，下半年我</tspan><tspan x="1968" dy="15.1">们要以团队为主，充分发挥团队的力量。这次</tspan><tspan x="1968" dy="15.1">我们地区也成立了一个小组。成员们是尹云和</tspan><tspan x="1968" dy="15.1">赵美南和我，尹云和赵美南。他们都是非常优</tspan><tspan x="1968" dy="15.1">秀的业务人员。我们应该互相学习，共同提高</tspan><tspan x="1968" dy="15.1">。我们每个人都在努力。期待进一步创造新天</tspan><tspan x="1968" dy="15.1">地。</tspan></text><line class="ul" x1="1962" y1="2791" x2="2207" y2="2791"/></g>
<g id="b5-s2"><text class="t" x="1735" y="3044.4">下半年我在工作中需要改善的主要是:</text><line class="ul" x1="1729" y1="3053" x2="1940" y2="3053"/></g>
<g id="b5-s2a"><text class="t" x="1966" y="2835.4"><tspan x="1966">1.首先要做好老客户的定期回访，防止老客户</tspan><tspan x="1966" dy="15.1">的损失，其余时间重点追踪有潜力的顾客。</tspan></text><line class="ul" x1="1961" y1="2859" x2="2208" y2="2859"/></g>
<g id="b5-s2b"><text class="t" x="1966" y="2901.9"><tspan x="1966">2.加强对专业知识的了解，以便在有客户咨询</tspan><tspan x="1966" dy="15.1">的时候能够有空闲。同时，注重学习综合理论</tspan><tspan x="1966" dy="15.1">知识和销售技能。</tspan></text><line class="ul" x1="1961" y1="2941" x2="2208" y2="2941"/></g>
<g id="b5-s2c"><text class="t" x="1966" y="2984.4"><tspan x="1966">4.做好新客户开发，不是所有客户都能销售。</tspan><tspan x="1966" dy="15.1">我们要慢慢培养最终要让他们的客户成为我们</tspan><tspan x="1966" dy="15.1">的骨髓客户。至少别人问的时候不会说我们的</tspan><tspan x="1966" dy="15.1">坏话。这也是成功的一种，口碑很重要。</tspan></text><line class="ul" x1="1961" y1="3037" x2="2208" y2="3037"/></g>
<g id="b5-s2d"><text class="t" x="1966" y="3080.8"><tspan x="1966">5.做好大客户的维护工作，客户关系有28条规</tspan><tspan x="1966" dy="15.1">律，对我们来说还是很合适的。80%的销售</tspan><tspan x="1966" dy="15.1">额来自20%的客户，我们80%的销售额来自2</tspan><tspan x="1966" dy="15.1">0%的产品，因此，我们要在维持大客户的同</tspan><tspan x="1966" dy="15.1">时，不断开发新客户，在维持现有客户的产品</tspan><tspan x="1966" dy="15.1">的同时，设法扩大其他产品的销售</tspan></text><line class="ul" x1="1961" y1="3165" x2="2208" y2="3165"/></g>
<g id="b5-s2e"><text class="t" x="1966" y="3223.4"><tspan x="1966">6.做好公司分配的工作，尽我们所能完成公司</tspan><tspan x="1966" dy="15.1">规定的任务，百折不挠，勇往直前。</tspan></text><line class="ul" x1="1961" y1="3246" x2="2208" y2="3246"/></g>
<g id="b5-s2f"><text class="t" x="2235" y="3208.4"><tspan x="2235">总之，下个月我们期待取得更好的业绩，公司</tspan><tspan x="2235" dy="15.1">期待取得更好的结果。期待年底前我们都能满</tspan><tspan x="2235" dy="15.1">载而归！</tspan></text><line class="ul" x1="2230" y1="3246" x2="2475" y2="3246"/></g>
</svg>
